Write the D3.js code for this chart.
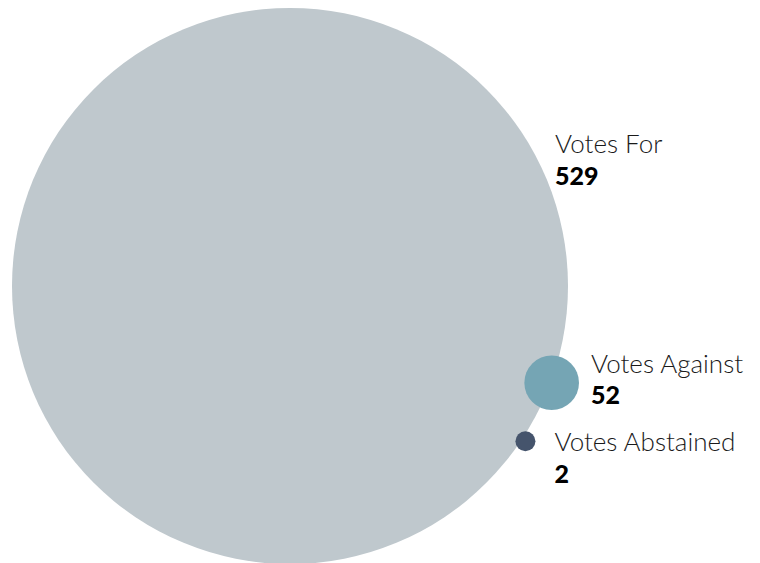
<!DOCTYPE html>
<html>
<head>
<meta charset="utf-8">
<script src="https://cdn.jsdelivr.net/npm/d3@7"></script>
<style>
  html, body { margin: 0; padding: 0; background: #ffffff; }
  svg { display: block; }
  .title { font-family: Lato, "Open Sans", sans-serif; font-weight: 300; fill: #1a1a1a; }
  .value { font-family: Lato, "Open Sans", sans-serif; font-weight: 900; fill: #000000; }
</style>
</head>
<body>
<svg id="chart" width="760" height="563"></svg>
<script>
// Vote tally
const categories = ["Votes For", "Votes Against", "Votes Abstained"];
const votes = [529, 52, 2];
const colors = ["#bfc8cd", "#75a5b4", "#45546c"];

const width = 760, height = 563;
const svg = d3.select("#chart");

// Radius proportional to the count, with a floor so tiny counts stay visible
const rScale = d3.scaleLinear().domain([0, d3.max(votes)]).range([0, 278]);
const radius = v => Math.max(10, rScale(v));

// Main circle, with the smaller ones sitting on its rim
const main = { x: 290, y: 286, r: radius(votes[0]) };
const rimAngles = [null, 20.3, 33.4];   // degrees below the horizontal
const rimOffset = [0, 1, 4];            // px outward from the rim

const nodes = categories.map((name, i) => {
  const r = radius(votes[i]);
  if (i === 0) return { name, value: votes[i], color: colors[i], x: main.x, y: main.y, r };
  const a = rimAngles[i] * Math.PI / 180;
  const d = main.r + rimOffset[i];
  return { name, value: votes[i], color: colors[i],
           x: main.x + d * Math.cos(a), y: main.y + d * Math.sin(a), r };
});

svg.selectAll("circle.bubble")
  .data(nodes)
  .join("circle")
  .attr("class", "bubble")
  .attr("cx", d => d.x)
  .attr("cy", d => d.y)
  .attr("r", d => d.r)
  .attr("fill", d => d.color);

// Label placement: [x, title baseline, value baseline]
const labelPos = [
  n => [555, 153, 185],
  n => [n.x + n.r + 12, n.y - 10, n.y + 21],
  n => [n.x + n.r + 19, n.y + 10, n.y + 42]
];

const labels = svg.selectAll("g.label")
  .data(nodes)
  .join("g")
  .attr("class", "label");

labels.append("text")
  .attr("class", "title")
  .attr("x", (d, i) => labelPos[i](d)[0])
  .attr("y", (d, i) => labelPos[i](d)[1])
  .attr("font-size", 26)
  .text(d => d.name);

labels.append("text")
  .attr("class", "value")
  .attr("x", (d, i) => labelPos[i](d)[0])
  .attr("y", (d, i) => labelPos[i](d)[2])
  .attr("font-size", 25)
  .text(d => d.value);
</script>
</body>
</html>
